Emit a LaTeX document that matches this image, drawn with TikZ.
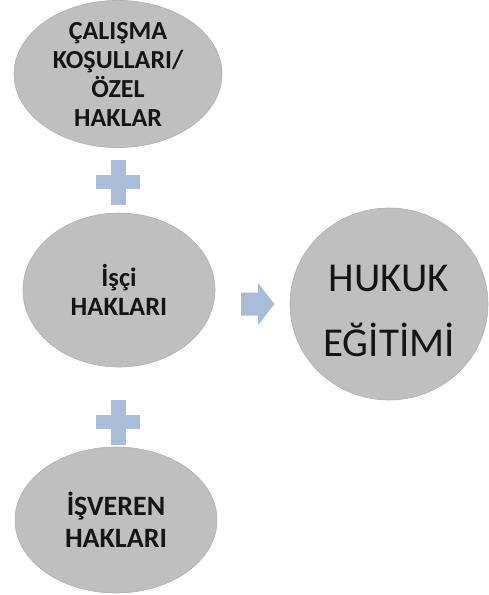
\documentclass[tikz,border=0pt]{standalone}
\usepackage{fontspec}
\setmainfont{Carlito}
\usetikzlibrary{shapes.geometric}
\definecolor{ovalgray}{HTML}{BFBFBF}
\definecolor{ovaledge}{HTML}{B0B0B0}
\definecolor{plusblue}{HTML}{A9BDDB}
\definecolor{txt}{HTML}{151515}
\tikzset{
  oval/.style={ellipse, fill=ovalgray, draw=ovaledge, line width=0.6pt, inner sep=0pt, align=center, text=txt},
  plussign/.style={fill=plusblue},
  blockarrow/.style={fill=plusblue}
}
\begin{document}
\begin{tikzpicture}[x=1pt,y=-1pt]
\useasboundingbox (0,0) rectangle (489,595);
\fill[white] (0,0) rectangle (489,595);
\node[oval, font=\bfseries\fontsize{26}{29}\selectfont, minimum width=208pt, minimum height=132pt] (calisma) at (118,74) {ÇALIŞMA\\KOŞULLARI/\\ÖZEL\\HAKLAR};
\node[oval, font=\bfseries\fontsize{26.5}{29.5}\selectfont, minimum width=192pt, minimum height=154pt] (isci) at (119,290) {İşçi\\HAKLARI};
\node[oval, font=\bfseries\fontsize{28}{32}\selectfont, minimum width=202pt, minimum height=146pt] (isveren) at (116,520) {İŞVEREN\\HAKLARI};
\node[oval, minimum width=198pt, minimum height=192pt] (hukuk) at (389,304) {};
\node[align=center, text=txt, font=\fontsize{41}{65}\selectfont, inner sep=0pt] (hukuktext) at ([yshift=-7pt]hukuk.center) {HUKUK\\EĞİTİMİ};
% plus signs
\coordinate (p1) at (118,182);
\coordinate (p2) at (118,422);
\foreach \p in {p1,p2}{
  \fill[plussign] ([xshift=-7.5pt,yshift=22.5pt]\p) rectangle ([xshift=7.5pt,yshift=-22.5pt]\p);
  \fill[plussign] ([xshift=-22pt,yshift=7pt]\p) rectangle ([xshift=22pt,yshift=-7pt]\p);
}
% block arrow
\coordinate (ar) at (241,304);
\fill[blockarrow] (ar) ++(0,-11.5) -- ++(17,0) -- ++(0,-9.5) -- ++(16.5,21) -- ++(-16.5,21) -- ++(0,-9.5) -- ++(-17,0) -- cycle;
\end{tikzpicture}
\end{document}
